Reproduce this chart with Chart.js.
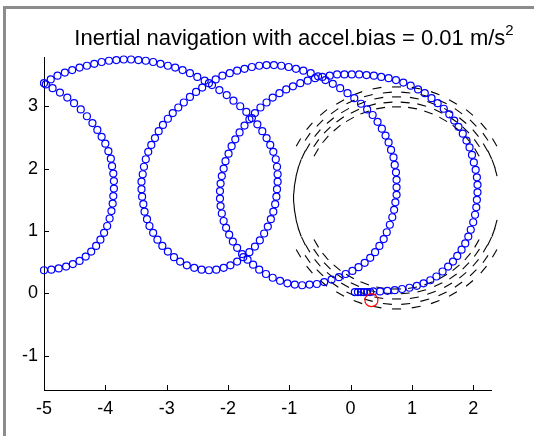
<!DOCTYPE html>
<html>
<head>
<meta charset="utf-8">
<script src="https://cdn.jsdelivr.net/npm/chart.js@4.4.0/dist/chart.umd.min.js"></script>
<style>
  html, body { margin: 0; padding: 0; background: #fff; }
  #wrap { position: relative; width: 534px; height: 436px; overflow: hidden; }
  #frame { position: absolute; left: 3px; top: 6px; width: 560px; height: 460px;
           border-left: 3px solid #8c8c8c; border-top: 3px solid #8c8c8c; }
  #title { position: absolute; left: 294px; top: 27px; transform: translateX(-50%);
           font: 22px/22px "Liberation Sans", Arial, sans-serif; white-space: nowrap; color: #000; }
  #title span { font-size: 15px; position: relative; top: -10px; }
  canvas { position: absolute; left: 0; top: 0; }
</style>
</head>
<body>
<div id="wrap">
  <div id="frame"></div>
  <canvas id="nav" width="534" height="436"></canvas>
  <div id="title">Inertial navigation with accel.bias = 0.01 m/s<span>2</span></div>
</div>
<script>
// estimated position (blue circles)
const pathX = [
  0.07,0.12,0.17,0.22,0.27,0.32,0.37,0.48,0.60,0.72,0.84,0.96,
  1.08,1.19,1.30,1.40,1.50,1.59,1.67,1.74,1.81,1.87,1.92,1.96,
  2.00,2.03,2.05,2.06,2.07,2.07,2.06,2.04,2.01,1.98,1.94,1.89,
  1.83,1.76,1.69,1.61,1.52,1.42,1.32,1.21,1.10,0.98,0.86,0.74,
  0.62,0.50,0.38,0.26,0.14,0.02,-0.10,-0.22,-0.34,-0.46,-0.58,-0.70,
  -0.82,-0.94,-1.05,-1.16,-1.27,-1.37,-1.47,-1.56,-1.65,-1.73,-1.81,-1.88,
  -1.94,-1.99,-2.04,-2.07,-2.10,-2.12,-2.13,-2.13,-2.12,-2.10,-2.07,-2.03,
  -1.98,-1.92,-1.85,-1.77,-1.68,-1.59,-1.49,-1.38,-1.27,-1.15,-1.03,-0.91,
  -0.79,-0.67,-0.55,-0.43,-0.31,-0.19,-0.08,0.03,0.13,0.23,0.32,0.40,
  0.47,0.54,0.59,0.64,0.68,0.71,0.73,0.75,0.75,0.75,0.74,0.72,
  0.70,0.66,0.62,0.57,0.51,0.44,0.36,0.27,0.17,0.06,-0.05,-0.17,
  -0.29,-0.41,-0.53,-0.65,-0.77,-0.89,-1.01,-1.13,-1.25,-1.37,-1.49,-1.61,
  -1.73,-1.85,-1.97,-2.09,-2.20,-2.31,-2.42,-2.52,-2.62,-2.72,-2.81,-2.90,
  -2.98,-3.06,-3.13,-3.19,-3.25,-3.30,-3.34,-3.37,-3.39,-3.41,-3.41,-3.40,
  -3.38,-3.36,-3.32,-3.28,-3.22,-3.15,-3.07,-2.98,-2.88,-2.78,-2.67,-2.55,
  -2.43,-2.31,-2.19,-2.07,-1.96,-1.85,-1.75,-1.65,-1.56,-1.48,-1.41,-1.35,
  -1.30,-1.26,-1.23,-1.21,-1.20,-1.19,-1.19,-1.20,-1.22,-1.26,-1.31,-1.37,
  -1.44,-1.52,-1.61,-1.70,-1.80,-1.91,-2.02,-2.14,-2.26,-2.38,-2.50,-2.62,
  -2.74,-2.86,-2.98,-3.10,-3.22,-3.34,-3.46,-3.58,-3.70,-3.82,-3.94,-4.06,
  -4.18,-4.30,-4.42,-4.54,-4.66,-4.78,-4.89,-5.00,
  -5.00,-4.88,-4.76,-4.64,-4.53,-4.42,-4.32,-4.23,-4.15,-4.08,-4.02,-3.97,
  -3.93,-3.90,-3.88,-3.87,-3.86,-3.86,-3.87,-3.89,-3.91,-3.95,-4.00,-4.06,
  -4.13,-4.21,-4.30,-4.40,-4.51,-4.62,-4.74,-4.86,-4.97
];
const pathY = [
  0.02,0.02,0.02,0.02,0.02,0.02,0.03,0.03,0.04,0.05,0.07,0.09,
  0.12,0.16,0.21,0.27,0.35,0.43,0.51,0.60,0.70,0.80,0.91,1.02,
  1.14,1.26,1.38,1.50,1.62,1.74,1.86,1.98,2.10,2.22,2.34,2.45,
  2.56,2.67,2.77,2.87,2.96,3.05,3.13,3.21,3.27,3.33,3.38,3.42,
  3.45,3.47,3.49,3.50,3.51,3.51,3.51,3.51,3.49,3.47,3.45,3.41,
  3.37,3.32,3.27,3.21,3.14,3.06,2.98,2.89,2.79,2.69,2.58,2.47,
  2.36,2.24,2.12,2.00,1.88,1.76,1.64,1.52,1.40,1.28,1.16,1.05,
  0.94,0.83,0.73,0.63,0.54,0.46,0.38,0.31,0.25,0.20,0.16,0.14,
  0.13,0.14,0.15,0.18,0.22,0.26,0.31,0.36,0.42,0.49,0.57,0.66,
  0.76,0.87,0.98,1.10,1.22,1.34,1.46,1.58,1.70,1.82,1.94,2.06,
  2.18,2.30,2.42,2.53,2.64,2.75,2.86,2.95,3.04,3.13,3.21,3.29,
  3.36,3.42,3.48,3.53,3.57,3.60,3.63,3.65,3.66,3.66,3.65,3.63,
  3.60,3.57,3.53,3.49,3.43,3.37,3.30,3.23,3.15,3.06,2.98,2.89,
  2.80,2.70,2.60,2.49,2.38,2.27,2.15,2.03,1.91,1.79,1.67,1.55,
  1.43,1.31,1.19,1.08,0.97,0.86,0.76,0.67,0.58,0.51,0.45,0.41,
  0.38,0.37,0.38,0.41,0.45,0.51,0.58,0.66,0.75,0.85,0.96,1.07,
  1.19,1.31,1.43,1.55,1.67,1.79,1.91,2.03,2.15,2.27,2.38,2.49,
  2.60,2.71,2.81,2.91,3.00,3.09,3.18,3.26,3.34,3.41,3.47,3.53,
  3.58,3.62,3.65,3.68,3.71,3.73,3.74,3.75,3.75,3.74,3.73,3.71,
  3.68,3.65,3.62,3.58,3.54,3.49,3.43,3.37,
  0.37,0.38,0.40,0.43,0.47,0.52,0.59,0.67,0.76,0.86,0.97,1.08,
  1.20,1.32,1.44,1.56,1.68,1.80,1.92,2.04,2.16,2.28,2.40,2.51,
  2.62,2.73,2.84,2.95,3.05,3.14,3.22,3.29,3.35
];

// reference trajectory drawn as short arrows (black): position + heading in degrees
const quivX = [
  2.43,2.40,2.33,2.20,2.04,1.83,1.59,1.32,1.04,0.75,0.46,0.18,
  -0.09,-0.33,-0.54,-0.70,-0.83,-0.90,-0.93,-0.90,-0.83,-0.70,-0.54,-0.33,
  -0.09,0.18,0.46,0.75,1.04,1.32,1.59,1.83,2.04,2.20,2.33,2.40,
  -0.77,-0.87,-0.92,-0.92,-0.87,-0.77,2.27,2.37,2.42,2.42,2.37,2.27,
  2.06,1.91,1.72,1.51,1.27,1.01,0.75,0.49,0.23,-0.01,-0.22,-0.41,-0.56,
  -0.56,-0.41,-0.22,-0.01,0.23,0.49,0.75,1.01,1.27,1.51,1.72,1.91,2.06,
  2.35,2.17,1.94,1.67,1.38,1.07,0.75,0.43,0.12,-0.17,-0.44,-0.67,-0.85,
  -0.85,-0.67,-0.44,-0.17,0.12,0.43,0.75,1.07,1.38,1.67,1.94,2.17,2.35,
  2.06,1.88,1.67,1.43,1.16,0.89,0.61,0.34,0.07,-0.17,-0.38,-0.56,
  -0.56,-0.38,-0.17,0.07,0.34,0.61,0.89,1.16,1.43,1.67,1.88,2.06,
  2.20,2.00,1.76,1.50,1.21,0.90,0.60,0.29,0.00,-0.26,-0.50,-0.70,
  -0.70,-0.50,-0.26,0.00,0.29,0.60,0.90,1.21,1.50,1.76,2.00,2.20
];
const quivY = [
  1.53,1.81,2.08,2.34,2.57,2.77,2.93,3.05,3.13,3.15,3.13,3.05,
  2.93,2.77,2.57,2.34,2.08,1.81,1.53,1.25,0.98,0.72,0.49,0.29,
  0.13,0.01,-0.07,-0.09,-0.07,0.01,0.13,0.29,0.49,0.72,0.98,1.25,
  2.22,1.95,1.67,1.39,1.11,0.84,0.84,1.11,1.39,1.67,1.95,2.22,
  2.26,2.47,2.65,2.79,2.90,2.97,2.99,2.97,2.90,2.79,2.65,2.47,2.26,
  0.80,0.59,0.41,0.27,0.16,0.09,0.07,0.09,0.16,0.27,0.41,0.59,0.80,
  2.42,2.68,2.90,3.07,3.21,3.29,3.31,3.29,3.21,3.07,2.90,2.68,2.42,
  0.64,0.38,0.16,-0.01,-0.14,-0.22,-0.25,-0.22,-0.14,-0.01,0.16,0.38,0.64,
  2.41,2.62,2.79,2.92,3.02,3.06,3.06,3.02,2.92,2.79,2.62,2.41,
  0.65,0.44,0.27,0.14,0.04,0.00,0.00,0.04,0.14,0.27,0.44,0.65,
  2.51,2.73,2.92,3.07,3.17,3.22,3.22,3.17,3.07,2.92,2.73,2.51,
  0.55,0.33,0.14,-0.01,-0.11,-0.17,-0.17,-0.11,-0.01,0.14,0.33,0.55
];
const quivAng = [
  90,80,70,60,50,40,30,20,10,0,170,160,
  150,140,130,120,110,100,90,80,70,60,50,40,
  30,20,10,0,170,160,150,140,130,120,110,100,
  115,105,95,85,75,65,115,105,95,85,75,65,
  60,50,40,30,20,10,0,170,160,150,140,130,120,
  60,50,40,30,20,10,0,170,160,150,140,130,120,
  60,50,40,30,20,10,0,170,160,150,140,130,120,
  60,50,40,30,20,10,0,170,160,150,140,130,120,
  55,45,35,25,15,5,175,165,155,145,135,125,
  55,45,35,25,15,5,175,165,155,145,135,125,
  55,45,35,25,15,5,175,165,155,145,135,125,
  55,45,35,25,15,5,175,165,155,145,135,125
];

// start marker (red circle)
const startX = [0.34];
const startY = [-0.11];

const xTicks = [-5, -4, -3, -2, -1, 0, 1, 2];
const yTicks = [-1, 0, 1, 2, 3];

const pts = (xs, ys) => xs.map((x, i) => ({ x: x, y: ys[i] }));
const FONT = '"Liberation Sans", Arial, Helvetica, sans-serif';

// MATLAB style ticks pointing into the plot
const inwardTicks = {
  id: 'inwardTicks',
  afterDraw(chart) {
    const { ctx, chartArea: a, scales } = chart;
    ctx.save();
    ctx.strokeStyle = '#000';
    ctx.lineWidth = 1;
    ctx.beginPath();
    xTicks.forEach(v => {
      const px = Math.round(scales.x.getPixelForValue(v)) + 0.5;
      ctx.moveTo(px, a.bottom);
      ctx.lineTo(px, a.bottom - 5);
    });
    yTicks.forEach(v => {
      const py = Math.round(scales.y.getPixelForValue(v)) + 0.5;
      ctx.moveTo(a.left, py);
      ctx.lineTo(a.left + 5, py);
    });
    ctx.stroke();
    ctx.restore();
  }
};

new Chart(document.getElementById('nav'), {
  type: 'scatter',
  data: {
    datasets: [
      {
        label: 'start',
        data: pts(startX, startY),
        pointStyle: 'circle',
        pointRadius: 6.5,
        pointBorderColor: '#ff0000',
        pointBackgroundColor: 'rgba(0,0,0,0)',
        pointBorderWidth: 1.2,
        clip: false
      },
      {
        label: 'estimated',
        data: pts(pathX, pathY),
        pointStyle: 'circle',
        pointRadius: 3.5,
        pointBorderColor: '#0000ff',
        pointBackgroundColor: 'rgba(0,0,0,0)',
        pointBorderWidth: 1.2,
        clip: false
      },
      {
        label: 'true',
        data: pts(quivX, quivY),
        pointStyle: 'line',
        pointRotation: quivAng,
        pointRadius: 4.5,
        pointBorderColor: '#000',
        pointBorderWidth: 1.1,
        clip: false
      }
    ]
  },
  options: {
    responsive: false,
    animation: false,
    events: [],
    layout: { padding: { left: 0, top: 57, right: 43, bottom: 0 } },
    plugins: { legend: { display: false }, tooltip: { enabled: false } },
    scales: {
      x: {
        type: 'linear',
        min: -5,
        max: 2.29,
        afterFit(s) { s.height = 46; },
        afterBuildTicks(s) { s.ticks = xTicks.map(v => ({ value: v })); },
        ticks: { color: '#000', padding: 8, maxRotation: 0, font: { family: FONT, size: 18 } },
        grid: { drawOnChartArea: false, drawTicks: false },
        border: { color: '#000', width: 1 }
      },
      y: {
        type: 'linear',
        min: -1.55,
        max: 3.79,
        afterFit(s) { s.width = 44; },
        afterBuildTicks(s) { s.ticks = yTicks.map(v => ({ value: v })); },
        ticks: { color: '#000', padding: 6, font: { family: FONT, size: 18 } },
        grid: { drawOnChartArea: false, drawTicks: false },
        border: { color: '#000', width: 1 }
      }
    }
  },
  plugins: [inwardTicks]
});
</script>
</body>
</html>
